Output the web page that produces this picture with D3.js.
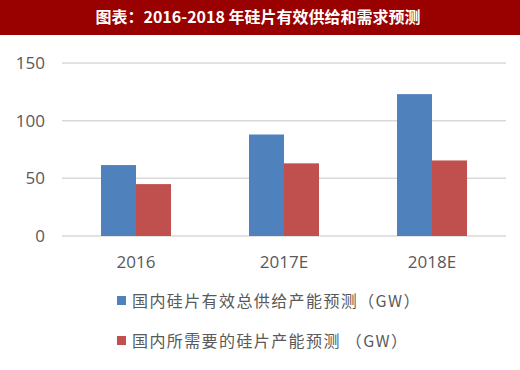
<!DOCTYPE html>
<html>
<head>
<meta charset="utf-8">
<script src="https://cdn.jsdelivr.net/npm/d3@7"></script>
<style>
body{margin:0;background:#fff;}
svg text{font-family:"Noto Sans CJK SC","DejaVu Sans",sans-serif;}
</style>
</head>
<body>
<div class="chart"></div>
<script>
var title="图表：2016-2018 年硅片有效供给和需求预测";
var categories=["2016","2017E","2018E"];
var supply=[61.5,88,123];
var demand=[45,63,65.5];
var seriesNames=["国内硅片有效总供给产能预测（GW）","国内所需要的硅片产能预测 （GW）"];
var colors=["#4f81bd","#c0504d"];
var yTicks=[0,50,100,150];

var width=520,height=370;
var svg=d3.select('.chart').append('svg')
    .attr('width',width)
    .attr('height',height);

// title bar
svg.append('rect')
    .attr('x',0).attr('y',0)
    .attr('width',width).attr('height',35)
    .attr('fill','#990000');
svg.append('text')
    .attr('x',258).attr('y',23)
    .attr('text-anchor','middle')
    .attr('fill','#fff')
    .attr('font-size',16)
    .attr('font-weight','bold')
    .text(title);

var x=d3.scaleBand().domain(categories).range([62,506]).paddingInner(0).paddingOuter(0);
var y=d3.scaleLinear().domain([0,150]).range([236,63]);
var barW=35;

// gridlines
svg.selectAll('line.grid').data(yTicks)
    .enter().append('line')
        .attr('class','grid')
        .attr('x1',62).attr('x2',506)
        .attr('y1',function(d){return y(d);})
        .attr('y2',function(d){return y(d);})
        .attr('stroke','#d9d9d9')
        .attr('stroke-width',1.5);

var yAxis=svg.append('g')
    .attr('transform','translate(51,0)')
    .call(d3.axisLeft(y).tickValues(yTicks).tickSize(0).tickPadding(6));
yAxis.select('.domain').remove();
yAxis.selectAll('text')
    .attr('fill','#595959')
    .attr('font-size',17)
    .style('font-family','"Open Sans","DejaVu Sans",sans-serif');

var xAxis=svg.append('g')
    .attr('transform','translate(0,236)')
    .call(d3.axisBottom(x).tickSize(0).tickPadding(20));
xAxis.select('.domain').remove();
xAxis.selectAll('text')
    .attr('fill','#595959')
    .attr('font-size',17)
    .style('font-family','"Open Sans","DejaVu Sans",sans-serif');

var series=[supply,demand];
series.forEach(function(vals,si){
    svg.selectAll('rect.s'+si).data(vals)
        .enter().append('rect')
            .attr('class','s'+si)
            .attr('x',function(d,i){return x(categories[i])+x.bandwidth()/2-barW+si*barW;})
            .attr('y',function(d){return y(d);})
            .attr('width',barW)
            .attr('height',function(d){return y(0)-y(d);})
            .attr('fill',colors[si]);
});

// legend
var legend=svg.selectAll('g.legend').data(seriesNames)
    .enter().append('g')
        .attr('class','legend')
        .attr('transform',function(d,i){return 'translate(117,'+(301+i*40)+')';});
legend.append('rect')
    .attr('x',0).attr('y',-5)
    .attr('width',9).attr('height',9)
    .attr('fill',function(d,i){return colors[i];});
legend.append('text')
    .attr('x',15).attr('y',6)
    .attr('fill','#595959')
    .attr('font-size',16)
    .attr('letter-spacing',1.4)
    .text(function(d){return d;});
</script>
</body>
</html>
